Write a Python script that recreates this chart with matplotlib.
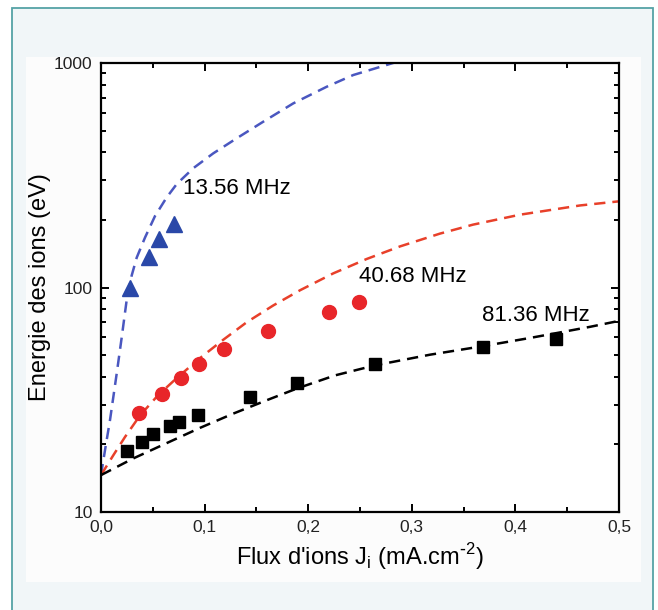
import matplotlib
matplotlib.use("Agg")
import matplotlib.pyplot as plt
from matplotlib.patches import Rectangle
from matplotlib.ticker import LogLocator, NullFormatter, FixedLocator

plt.rcParams['font.family'] = ['Liberation Sans', 'DejaVu Sans']
plt.rcParams['axes.unicode_minus'] = False

# measured ion energies
tri_x = [0.028, 0.0467, 0.056, 0.0705]
tri_y = [99.5, 137, 164, 192]

circ_x = [0.037, 0.0592, 0.0772, 0.0943, 0.119, 0.1615, 0.2198, 0.2493]
circ_y = [27.5, 33.4, 39.6, 45.6, 53.0, 64.2, 77.5, 86.2]

sq_x = [0.0248, 0.0396, 0.0499, 0.0666, 0.0756, 0.0933, 0.1435, 0.1895, 0.2648, 0.3687, 0.4392]
sq_y = [18.7, 20.6, 22.3, 24.2, 25.1, 27.0, 32.6, 37.5, 45.5, 54.5, 59.0]

# model curves (dashed)
blue_x = [0, 0.0039, 0.0087, 0.0152, 0.020, 0.0248, 0.0296, 0.0345, 0.0425, 0.0521, 0.0634,
          0.0731, 0.0891, 0.1084, 0.131, 0.1567, 0.1856, 0.2179, 0.2435, 0.2819, 0.30]
blue_y = [14.6, 18.9, 25.7, 41.5, 60, 88, 113, 136, 167, 208, 252,
          289, 340, 396, 462, 548, 661, 784, 884, 1000, 1060]

red_x = [0, 0.0119, 0.0232, 0.0376, 0.055, 0.0731, 0.0956, 0.118, 0.1406, 0.1663, 0.1921,
         0.2242, 0.2565, 0.2886, 0.3272, 0.359, 0.4044, 0.4624, 0.5]
red_y = [14.6, 17.9, 21.6, 26.9, 33.1, 39.5, 48.5, 58.5, 70.0, 83.2, 97.2,
         115.6, 134, 152.4, 173.8, 190.5, 211, 232, 242]

black_x = [0, 0.0309, 0.0637, 0.0956, 0.1274, 0.1602, 0.1892, 0.2259, 0.2645, 0.3176,
           0.3687, 0.4141, 0.4392, 0.472, 0.5]
black_y = [14.6, 17.3, 20.3, 23.7, 27.4, 31.5, 35.5, 40.6, 45.0, 50.2,
           54.8, 59.6, 62.6, 66.8, 71.0]

x_ticks = [0.0, 0.1, 0.2, 0.3, 0.4, 0.5]
x_tick_labels = ["0,0", "0,1", "0,2", "0,3", "0,4", "0,5"]
y_ticks = [10, 100, 1000]
y_tick_labels = ["10", "100", "1000"]

fig = plt.figure(figsize=(6.58, 6.10), dpi=100)
fig.patch.set_facecolor("white")

# teal frame and pale panel behind the chart
fig.patches.append(Rectangle((12 / 658, -0.05), 641 / 658, 1.05 - 8 / 610,
                             transform=fig.transFigure, facecolor="#f1f6f8",
                             edgecolor="#55a2a6", linewidth=1.3, zorder=-10))
fig.patches.append(Rectangle((26 / 658, 28 / 610), 615 / 658, 525 / 610,
                             transform=fig.transFigure, facecolor="#fcfcfc",
                             edgecolor="none", zorder=-9))

ax = fig.add_axes([101 / 658, 98 / 610, 518 / 658, 449 / 610])
ax.set_facecolor("white")
ax.set_yscale("log")
ax.set_xlim(0, 0.5)
ax.set_ylim(10, 1000)

dash = (4.5, 2.8)
ax.plot(blue_x, blue_y, color="#4a57c0", lw=1.8, dashes=dash)
ax.plot(red_x, red_y, color="#e8402a", lw=1.8, dashes=dash)
ax.plot(black_x, black_y, color="black", lw=1.8, dashes=dash)

ax.plot(tri_x, tri_y, ls="none", marker="^", ms=11, color="#2a48a8")
ax.plot(circ_x, circ_y, ls="none", marker="o", ms=10, color="#e8262a")
ax.plot(sq_x, sq_y, ls="none", marker="s", ms=9, color="black")

ax.text(0.0792, 277, "13.56 MHz", fontsize=16, ha="left", va="center")
ax.text(0.249, 111.7, "40.68 MHz", fontsize=16, ha="left", va="center")
ax.text(0.3678, 74.7, "81.36 MHz", fontsize=16, ha="left", va="center")

ax.xaxis.set_major_locator(FixedLocator(x_ticks))
ax.set_xticklabels(x_tick_labels)
ax.xaxis.set_minor_locator(FixedLocator([0.05, 0.15, 0.25, 0.35, 0.45]))
ax.yaxis.set_major_locator(FixedLocator(y_ticks))
ax.set_yticklabels(y_tick_labels)
ax.yaxis.set_minor_locator(LogLocator(base=10, subs=range(2, 10)))
ax.yaxis.set_minor_formatter(NullFormatter())

ax.tick_params(which="both", direction="in", top=True, right=True, width=1.4)
ax.tick_params(which="major", length=6, pad=6)
ax.tick_params(which="minor", length=3.5)
ax.tick_params(axis="both", labelsize=12.5, labelcolor="#222222")
for s in ax.spines.values():
    s.set_linewidth(1.6)

ax.set_xlabel("Flux d'ions J$_\\mathregular{i}$ (mA.cm$^{\\text{-}\\mathregular{2}}$)", fontsize=17, labelpad=4)
ax.set_ylabel("Energie des ions (eV)", fontsize=17, labelpad=2)

fig.savefig("out.png", dpi=100)
